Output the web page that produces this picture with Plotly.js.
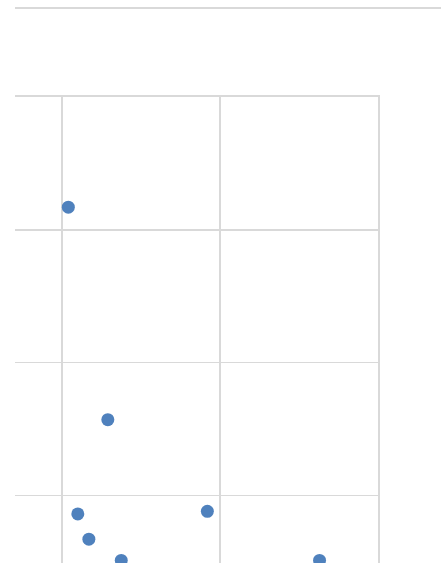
<!DOCTYPE html>
<html>
<head>
<meta charset="utf-8">
<script src="https://cdn.plot.ly/plotly-3.0.1.min.js"></script>
<style>
html, body { margin: 0; padding: 0; overflow: hidden; background: #fff; }
#chart { width: 441px; height: 600px; }
</style>
</head>
<body>
<div id="chart"></div>
<script>
// Data
const xValues = [104, 129, 110, 117, 137.5, 192, 263];
const yValues = [317, 157, 86, 67, 51, 88, 51];
const xTicks = [100, 200, 300];
const yTicks = [100, 200, 300, 400];

const gridColor = '#d9d9d9';

const trace = {
  type: 'scatter',
  mode: 'markers',
  x: xValues,
  y: yValues,
  marker: { color: '#4f81bd', size: 13 },
  hoverinfo: 'none',
  cliponaxis: true
};

const layout = {
  width: 441,
  height: 600,
  margin: { l: 15, r: 63, t: 97, b: 0 },
  paper_bgcolor: '#ffffff',
  plot_bgcolor: '#ffffff',
  showlegend: false,
  xaxis: {
    side: 'top',
    range: [70.25, 300],
    tickvals: xTicks,
    showticklabels: false,
    ticks: '',
    showgrid: true,
    gridcolor: gridColor,
    gridwidth: 1.7,
    zeroline: false,
    showline: true,
    linecolor: gridColor,
    linewidth: 1.7,
    fixedrange: true
  },
  yaxis: {
    side: 'right',
    range: [21.2, 400],
    tickvals: yTicks,
    showticklabels: false,
    ticks: '',
    showgrid: true,
    gridcolor: gridColor,
    gridwidth: 1.7,
    zeroline: false,
    showline: true,
    linecolor: gridColor,
    linewidth: 1.7,
    fixedrange: true
  },
  shapes: [{
    type: 'line',
    xref: 'paper', yref: 'paper',
    x0: 0, x1: 1.25,
    y0: 1.177, y1: 1.177,
    line: { color: gridColor, width: 2 }
  }]
};

Plotly.newPlot('chart', [trace], layout, { displayModeBar: false, staticPlot: true });
</script>
</body>
</html>
